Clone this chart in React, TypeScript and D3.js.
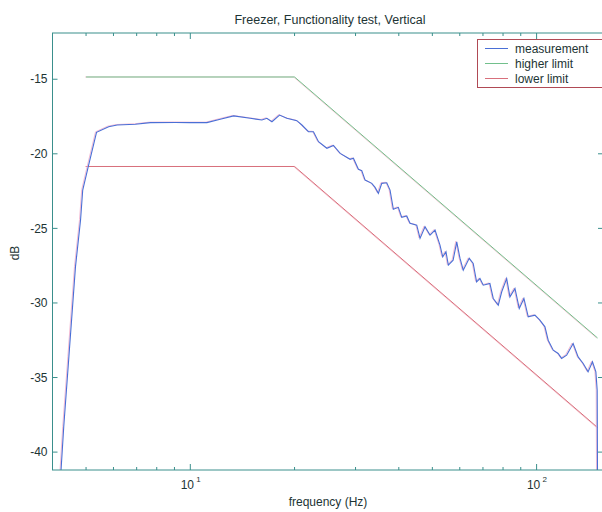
import * as d3 from "d3";

const W = 602;
const H = 512;
const PLOT = { left: 52.5, right: 603, top: 33, bottom: 470 };

// measurement, frequency in Hz and level in dB
const measFreq = [
  4.2, 4.31, 4.46, 4.66, 4.82, 4.89, 5.06, 5.36, 5.81, 6.15, 6.94, 7.67, 9.05, 10, 11.17,
  12.2, 13.34, 14.9, 16.1, 16.64, 17.21, 18.1, 19.0, 20.31, 21.0, 21.94, 22.68, 23.45, 24.8,
  25.9, 27.09, 28.94, 29.58, 30.58, 31.27, 31.97, 33.42, 34.16, 34.92, 35.72, 36.92, 37.74,
  38.58, 39.88, 40.79, 42.17, 43.1, 45.07, 46.07, 47.62, 49.23, 50.9, 52.6, 53.56, 54.74,
  55.6, 57.4, 58.8, 60.07, 61.4, 63.9, 65.6, 67.1, 68.6, 70.15, 73.3, 74.96, 77.5, 79.3,
  81.95, 83.75, 86.6, 89.1, 91.9, 94.6, 98.9, 102.2, 105.7, 108.0, 111.7, 115.4, 118.1,
  122.1, 127.5, 131.8, 136.3, 140.8, 145.0, 148.3, 149.6, 150.0,
];
const measDb = [
  -42.5, -38.32, -33.62, -27.58, -24.44, -22.43, -20.97, -18.56, -18.18, -18.07, -18.02,
  -17.91, -17.9, -17.91, -17.91, -17.68, -17.46, -17.62, -17.73, -17.62, -17.85, -17.4,
  -17.62, -17.78, -18.07, -18.52, -18.52, -19.19, -19.63, -19.44, -19.97, -20.37, -20.3,
  -21.04, -21.13, -21.76, -21.98, -22.25, -22.65, -21.98, -21.94, -22.43, -23.72, -23.59,
  -24.26, -24.17, -24.66, -24.78, -25.67, -24.89, -25.45, -25.11, -26.12, -26.91, -26.57,
  -27.46, -27.13, -25.9, -27.0, -27.8, -27.01, -27.35, -28.58, -28.36, -28.81, -28.69,
  -29.7, -30.15, -29.25, -28.36, -29.59, -29.03, -30.37, -29.7, -30.93, -30.82, -31.15,
  -31.6, -32.5, -33.17, -33.39, -33.72, -33.5, -32.72, -33.62, -34.06, -34.62, -33.95,
  -34.62, -35.85, -43,
];

const limitFreq = [5, 20, 150];
const higherDb = [-14.85, -14.85, -32.35];
const lowerDb = [-20.85, -20.85, -38.35];

const yTicks = [-40, -35, -30, -25, -20, -15];
const xMajor = [10, 100];
const xMinor = [4, 5, 6, 7, 8, 9, 20, 30, 40, 50, 60, 70, 80, 90];

const legendItems = ["measurement", "higher limit", "lower limit"];

const AXIS = "#3a8f8c";
const TEXT = "#1d3434";
const BLUE = "#4a6fd6";
const GREEN = "#72c08c";
const RED = "#d8707c";
const FONT = "'Liberation Sans', Arial, sans-serif";

export default function App() {
  const x = d3.scaleLog().domain([4, 155.5]).range([PLOT.left, PLOT.right]);
  const y = d3.scaleLinear().domain([-41.2, -11.9]).range([PLOT.bottom, PLOT.top]);

  const line = d3
    .line<[number, number]>()
    .x((d) => x(d[0]))
    .y((d) => y(d[1]));

  const meas = line(measFreq.map((f, i) => [f, measDb[i]]));
  const hi = line(limitFreq.map((f, i) => [f, higherDb[i]]));
  const lo = line(limitFreq.map((f, i) => [f, lowerDb[i]]));

  const legendColors = [BLUE, GREEN, RED];

  return (
    <svg
      width={W}
      height={H}
      style={{ position: "absolute", left: 0, top: 0, background: "#fff" }}
      fontFamily={FONT}
    >
      <defs>
        <clipPath id="plotClip">
          <rect
            x={PLOT.left}
            y={PLOT.top}
            width={PLOT.right - PLOT.left}
            height={PLOT.bottom - PLOT.top}
          />
        </clipPath>
      </defs>

      <text x={330} y={24} textAnchor="middle" fontSize={12.5} fill={TEXT}>
        Freezer, Functionality test, Vertical
      </text>

      {/* data lines, faint pink fringe underneath like the scanned original */}
      <g clipPath="url(#plotClip)" fill="none">
        <path d={hi ?? ""} stroke="#f6cad6" strokeWidth={1} transform="translate(-1,0)" />
        <path d={hi ?? ""} stroke={GREEN} strokeWidth={1} />
        <path d={lo ?? ""} stroke="#f6c4d0" strokeWidth={1} transform="translate(-1,0)" />
        <path d={lo ?? ""} stroke={RED} strokeWidth={1} />
        <path d={meas ?? ""} stroke="#f4bcd4" strokeWidth={1} transform="translate(-1,-0.5)" />
        <path d={meas ?? ""} stroke={BLUE} strokeWidth={1.1} />
      </g>

      {/* axes box */}
      <rect
        x={PLOT.left}
        y={PLOT.top}
        width={PLOT.right - PLOT.left}
        height={PLOT.bottom - PLOT.top}
        fill="none"
        stroke={AXIS}
        strokeWidth={1}
      />

      {/* y ticks */}
      {yTicks.map((t) => (
        <g key={"y" + t}>
          <line x1={PLOT.left} x2={PLOT.left + 5} y1={y(t)} y2={y(t)} stroke={AXIS} />
          <line x1={PLOT.right - 5} x2={PLOT.right} y1={y(t)} y2={y(t)} stroke={AXIS} />
          <text
            x={PLOT.left - 5}
            y={y(t)}
            dy="0.35em"
            textAnchor="end"
            fontSize={12}
            fill={TEXT}
          >
            {t}
          </text>
        </g>
      ))}

      {/* x ticks */}
      {xMinor.map((t) => (
        <g key={"xm" + t}>
          <line x1={x(t)} x2={x(t)} y1={PLOT.bottom} y2={PLOT.bottom - 3} stroke={AXIS} />
          <line x1={x(t)} x2={x(t)} y1={PLOT.top} y2={PLOT.top + 3} stroke={AXIS} />
        </g>
      ))}
      {xMajor.map((t) => (
        <g key={"xM" + t}>
          <line x1={x(t)} x2={x(t)} y1={PLOT.bottom} y2={PLOT.bottom - 6} stroke={AXIS} />
          <line x1={x(t)} x2={x(t)} y1={PLOT.top} y2={PLOT.top + 6} stroke={AXIS} />
          <text x={x(t) - 3} y={489} textAnchor="middle" fontSize={12} fill={TEXT}>
            10
          </text>
          <text x={x(t) + 6} y={482} fontSize={8} fill={TEXT}>
            {Math.round(Math.log10(t))}
          </text>
        </g>
      ))}

      <text x={328} y={506} textAnchor="middle" fontSize={12} fill={TEXT}>
        frequency (Hz)
      </text>
      <text
        transform="translate(19,253) rotate(-90)"
        textAnchor="middle"
        fontSize={12}
        fill={TEXT}
      >
        dB
      </text>

      {/* legend */}
      <g>
        <rect x={477.5} y={39.5} width={130} height={48} fill="#fff" stroke="#b04a55" strokeWidth={1} />
        {legendItems.map((name, i) => (
          <g key={name} transform={`translate(0,${48.5 + i * 15})`}>
            <line x1={485} x2={508} y1={0} y2={0} stroke={legendColors[i]} strokeWidth={1} />
            <text x={515} y={0} dy="0.35em" fontSize={12} fill={TEXT}>
              {name}
            </text>
          </g>
        ))}
      </g>
    </svg>
  );
}
